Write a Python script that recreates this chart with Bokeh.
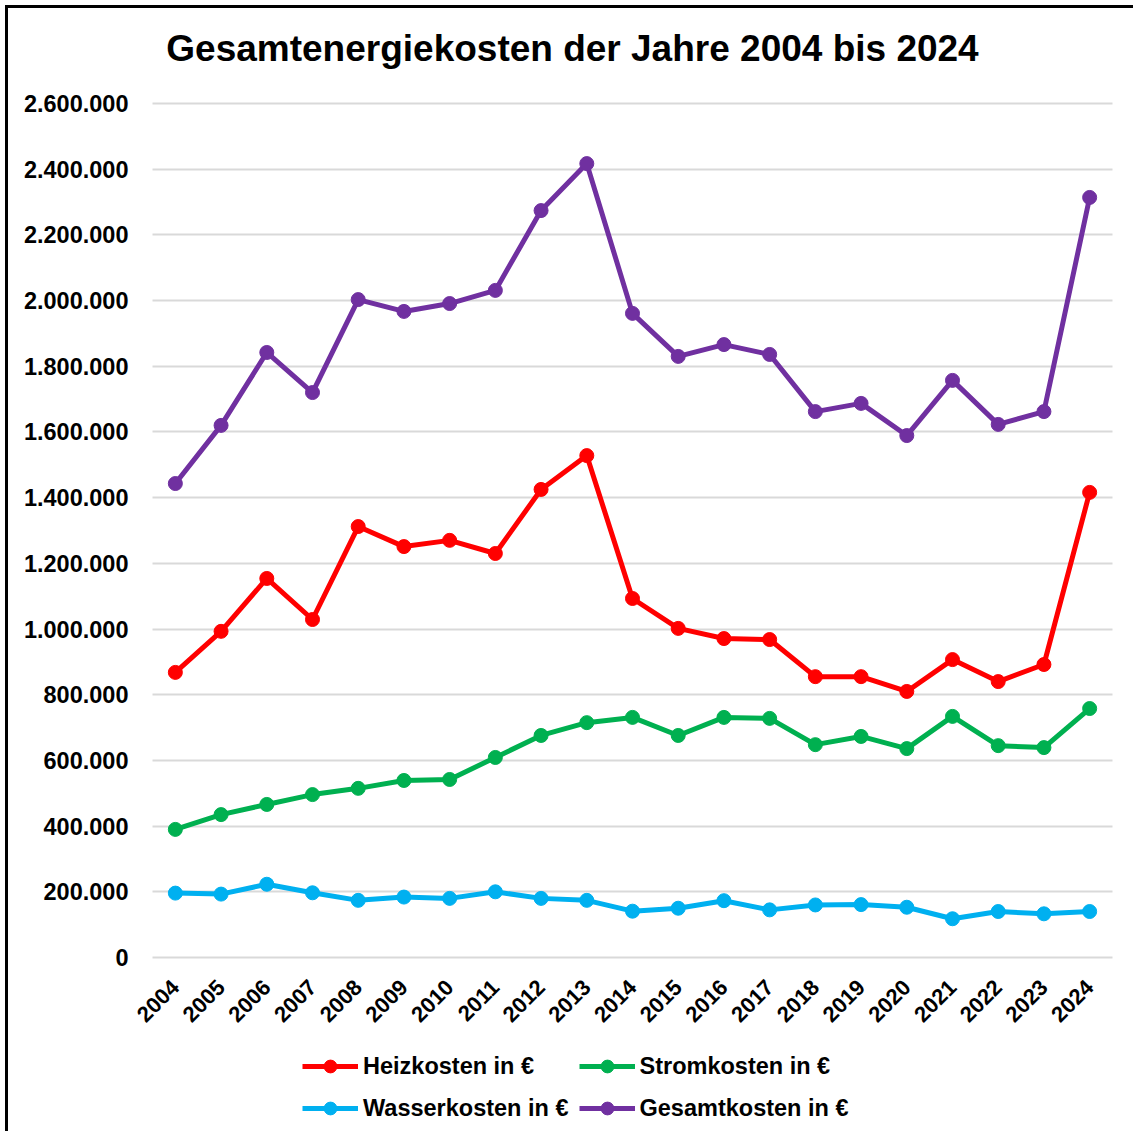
from bokeh.plotting import figure
from bokeh.models import Legend, LegendItem, Label, ColumnDataSource, FixedTicker, CustomJSTickFormatter
from bokeh.embed import file_html
from bokeh.resources import INLINE
import math

years = [str(y) for y in range(2004, 2025)]
heizkosten = [868000, 993000, 1154000, 1029000, 1312000, 1251000, 1270000, 1230000, 1425000, 1528000,
              1093000, 1002000, 971000, 968000, 855000, 855000, 810000, 907000, 840000, 892000, 1416000]
stromkosten = [390000, 435000, 466000, 496000, 515000, 539000, 542000, 609000, 676000, 715000,
               731000, 676000, 731000, 728000, 648000, 673000, 636000, 734000, 645000, 639000, 758000]
wasserkosten = [196000, 193000, 223000, 197000, 174000, 184000, 180000, 200000, 180000, 174000,
                141000, 150000, 173000, 145000, 160000, 161000, 153000, 118000, 140000, 133000, 140000]
gesamtkosten = [1443000, 1620000, 1842000, 1720000, 2003000, 1967000, 1991000, 2031000, 2274000, 2417000,
                1961000, 1830000, 1866000, 1836000, 1662000, 1687000, 1589000, 1757000, 1623000, 1662000, 2314000]
y_ticks = [0, 200000, 400000, 600000, 800000, 1000000, 1200000, 1400000, 1600000, 1800000,
           2000000, 2200000, 2400000, 2600000]
series_names = ["Heizkosten in €", "Stromkosten in €", "Wasserkosten in €", "Gesamtkosten in €"]
series_colors = ["#FF0000", "#00B050", "#00B0F0", "#7030A0"]
title_text = "Gesamtenergiekosten der Jahre 2004 bis 2024"

FONT = "Liberation Sans"

# layout (canvas pixels; canvas starts at page 8,8)
W, H = 1128, 1126
LEFT, RIGHT = 126, 6
Y_TOP_PX, Y_ZERO_PX = 95, 949          # canvas y of the 2.600.000 and 0 gridlines
y_max = y_ticks[-1]
ppu = (Y_ZERO_PX - Y_TOP_PX) / y_max
y_start = -(H - Y_ZERO_PX) / ppu
y_end = y_max + Y_TOP_PX / ppu

src = ColumnDataSource(dict(year=years, heiz=heizkosten, strom=stromkosten,
                            wasser=wasserkosten, gesamt=gesamtkosten))

p = figure(x_range=years, y_range=(y_start, y_end), width=W, height=H,
           output_backend="svg", toolbar_location=None,
           min_border_left=LEFT, min_border_right=RIGHT, min_border_top=0, min_border_bottom=0)
p.x_range.range_padding = 0.0375
p.styles = {"margin-left": "5px", "margin-top": "5px",
            "border-left": "3px solid black", "border-top": "3px solid black"}
p.outline_line_color = None
p.background_fill_color = "white"
p.border_fill_color = "white"

# axes
p.yaxis.ticker = FixedTicker(ticks=y_ticks)
p.yaxis.formatter = CustomJSTickFormatter(code="""
return Math.round(tick).toString().replace(/\\B(?=(\\d{3})+(?!\\d))/g, '.');
""")
for ax in (p.xaxis[0], p.yaxis[0]):
    ax.axis_line_color = None
    ax.major_tick_line_color = None
    ax.minor_tick_line_color = None
    ax.major_label_text_font = FONT
    ax.major_label_text_font_style = "bold"
    ax.major_label_text_color = "black"
p.yaxis.major_label_text_font_size = "23.5px"
p.yaxis.major_label_standoff = 0
p.xaxis.fixed_location = 0
p.xaxis.major_label_text_font_size = "22px"
p.xaxis.major_label_orientation = math.pi / 4
p.xaxis.major_label_standoff = 20

p.xgrid.grid_line_color = None
p.ygrid.grid_line_color = "#D9D9D9"
p.ygrid.grid_line_width = 2
p.ygrid.ticker = FixedTicker(ticks=y_ticks)
if "cross_bounds" in p.ygrid[0].properties():
    p.ygrid.cross_bounds = (0, len(years))

cols = ["heiz", "strom", "wasser", "gesamt"]
items = []
for col, name, color in zip(cols, series_names, series_colors):
    rl = p.line(x="year", y=col, source=src, line_color=color, line_width=5, line_join="round")
    rs = p.scatter(x="year", y=col, source=src, size=14, fill_color=color, line_color=color)
    items.append(LegendItem(label=name, renderers=[rl, rs]))

legend = Legend(items=items, location=(294 - LEFT, H - 1116), orientation="horizontal", ncols=2,
                glyph_width=56, glyph_height=32, label_height=32, label_standoff=5, spacing=10,
                padding=0, margin=0, border_line_color=None, background_fill_alpha=0,
                label_text_font=FONT, label_text_font_style="bold", label_text_font_size="23.5px",
                label_text_color="black")
p.add_layout(legend, "center")

title = Label(x=564 - LEFT, y=H - 40, x_units="screen", y_units="screen", text=title_text,
              text_align="center", text_baseline="middle", text_font=FONT,
              text_font_style="bold", text_font_size="37px", text_color="black")
p.add_layout(title)

open("out.html", "w").write(file_html(p, INLINE))
